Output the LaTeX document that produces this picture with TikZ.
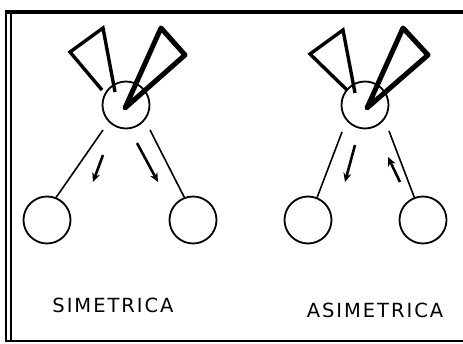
\documentclass[tikz,border=0pt]{standalone}
\usepackage{fontspec}
\usetikzlibrary{arrows.meta}
\newfontfamily\labelfont[LetterSpace=10]{DejaVu Sans}
\tikzset{
  circ/.style={circle, draw, line width=1.8pt, minimum size=47pt, inner sep=0pt},
  conn/.style={line width=1.6pt},
  arr/.style={line width=2.6pt, -{Stealth[length=9pt,width=8pt]}},
  thintri/.style={line width=3.4pt, line join=miter},
  thicktri/.style={line width=5pt, line join=round, line cap=round},
  lbl/.style={font=\labelfont\fontsize{19.5}{20}\selectfont, inner sep=0pt}
}
\begin{document}
\begin{tikzpicture}[x=1pt,y=-1pt]
\useasboundingbox (0,0) rectangle (463,344);
% frame
\draw[line width=3.8pt] (6,12) -- (463,12);
\draw[line width=1.8pt] (6,10) -- (6,342);
\draw[line width=1.6pt] (11,14) -- (11,340);
\draw[line width=2.2pt] (6,341) -- (463,341);

% ---- left diagram ----
\node[circ] (c1) at (126,105) {};
\node[circ] (b1) at (47,220) {};
\node[circ] (b2) at (193,220) {};
\draw[thintri] (102,90) -- (70,52) -- (103,28) -- (115,92);
\draw[thicktri] (125,108) -- (161,28) -- (185,55) -- cycle;
\coordinate (s1) at (103,130);
\coordinate (s2) at (150,130);
\draw[conn] (s1) -- (b1.68);
\draw[conn] (s2) -- (b2.111);
\coordinate (a1s) at (103,155); \coordinate (a1e) at (93,182);
\coordinate (a2s) at (137,143); \coordinate (a2e) at (158,182);
\draw[arr] (a1s) -- (a1e);
\draw[arr] (a2s) -- (a2e);
\node[lbl] (t1) at (113,305) {SIMETRICA};

% ---- right diagram ----
\node[circ] (c2) at (365,105) {};
\node[circ] (b3) at (308,220) {};
\node[circ] (b4) at (423,220) {};
\draw[thintri] (347,90) -- (310,54) -- (343,30) -- (355,93);
\draw[thicktri] (367,108) -- (403,28) -- (428,55) -- cycle;
\coordinate (s3) at (342,132);
\coordinate (s4) at (389,131);
\draw[conn] (s3) -- (b3.68);
\draw[conn] (s4) -- (b4.111);
\coordinate (a3s) at (355,145); \coordinate (a3e) at (345,182);
\coordinate (a4s) at (400,182); \coordinate (a4e) at (388,157);
\draw[arr] (a3s) -- (a3e);
\draw[arr] (a4s) -- (a4e);
\node[lbl] (t2) at (375,310) {ASIMETRICA};
\end{tikzpicture}
\end{document}
